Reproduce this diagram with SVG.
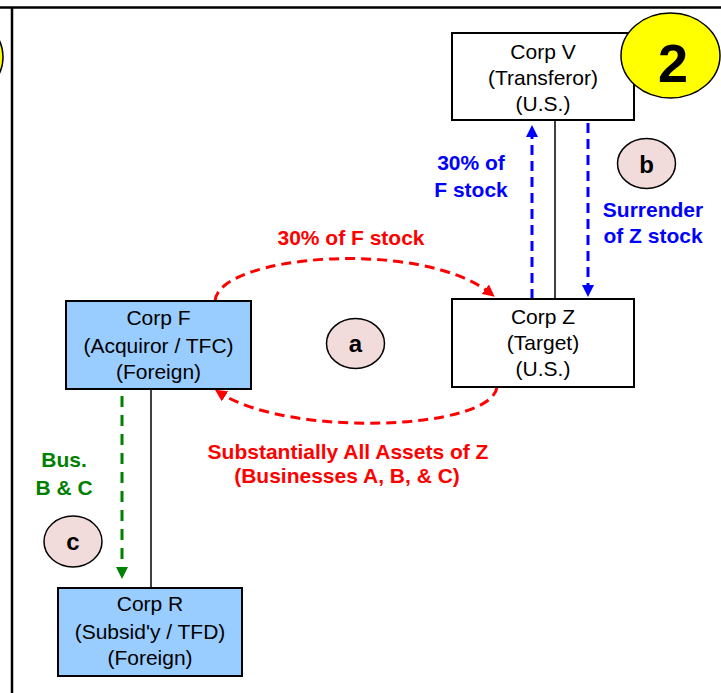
<svg xmlns="http://www.w3.org/2000/svg" width="721" height="693" viewBox="0 0 721 693">
<style>
  .box { stroke: #000; stroke-width: 2; }
  .white { fill: #fff; }
  .blue { fill: #99CCFF; }
  .nt { font-family: "Liberation Sans", Arial, sans-serif; font-size: 21px; fill: #000; text-anchor: middle; }
  .lbl { font-family: "Liberation Sans", Arial, sans-serif; font-size: 21px; font-weight: bold; text-anchor: middle; }
  .step { fill: #F2DCDB; stroke: #000; stroke-width: 1.5; }
  .stept { font-family: "Liberation Sans", Arial, sans-serif; font-size: 24px; font-weight: bold; fill: #000; text-anchor: middle; }
  .solid { stroke: #000; stroke-width: 1.5; fill: none; }
  .red { stroke: #FF0000; stroke-width: 3; fill: none; stroke-dasharray: 10 6; }
  .bl { stroke: #0000FF; stroke-width: 3; fill: none; stroke-dasharray: 10 6; }
  .gr { stroke: #008000; stroke-width: 3; fill: none; stroke-dasharray: 11 8; }
</style>
<defs>
  <marker id="ar" viewBox="0 0 12 12" refX="6" refY="6" markerWidth="12" markerHeight="12" markerUnits="userSpaceOnUse" orient="auto">
    <path d="M0,0 L12,6 L0,12 z" fill="#FF0000"/>
  </marker>
  <marker id="ab" viewBox="0 0 12 12" refX="6" refY="6" markerWidth="12" markerHeight="12" markerUnits="userSpaceOnUse" orient="auto">
    <path d="M0,0 L12,6 L0,12 z" fill="#0000FF"/>
  </marker>
  <marker id="ag" viewBox="0 0 12 12" refX="6" refY="6" markerWidth="12" markerHeight="12" markerUnits="userSpaceOnUse" orient="auto">
    <path d="M0,0 L12,6 L0,12 z" fill="#008000"/>
  </marker>
</defs>
<rect x="0" y="0" width="721" height="693" fill="#fff"/>
<g id="frame">
  <line x1="0" y1="7.5" x2="721" y2="7.5" stroke="#000" stroke-width="2.5"/>
  <line x1="12" y1="7" x2="12" y2="693" stroke="#000" stroke-width="2.5"/>
  <ellipse cx="-44" cy="57" rx="47" ry="42" fill="#FFFF00" stroke="#000" stroke-width="1.5"/>
</g>
<g id="connectors">
  <line class="solid" x1="555" y1="120" x2="555" y2="299"/>
  <line class="solid" x1="151" y1="389" x2="151" y2="588"/>
  <path class="red" d="M215,301 C218,255 420,238 490,293" marker-end="url(#ar)"/>
  <path class="red" d="M497,387 C492,430 290,438 220,393" marker-end="url(#ar)"/>
  <line class="bl" x1="532" y1="299" x2="532" y2="131" marker-end="url(#ab)"/>
  <line class="bl" x1="588" y1="123" x2="588" y2="291" marker-end="url(#ab)"/>
  <line class="gr" x1="122" y1="396" x2="122" y2="573" marker-end="url(#ag)"/>
</g>
<g id="corpV">
  <rect class="box white" x="452" y="33" width="182" height="87"/>
  <text class="nt" x="543" y="58.5">Corp V</text>
  <text class="nt" x="543" y="85">(Transferor)</text>
  <text class="nt" x="543" y="111">(U.S.)</text>
</g>
<g id="badge2">
  <ellipse cx="670.5" cy="55.5" rx="49.5" ry="42.5" fill="#FFFF00" stroke="#000" stroke-width="1.5"/>
  <text x="673" y="82" font-family="Liberation Sans, Arial, sans-serif" font-size="54" font-weight="bold" text-anchor="middle" fill="#000">2</text>
</g>
<g id="corpZ">
  <rect class="box white" x="452" y="299" width="182" height="88"/>
  <text class="nt" x="543" y="323.5">Corp Z</text>
  <text class="nt" x="543" y="349.5">(Target)</text>
  <text class="nt" x="543" y="376">(U.S.)</text>
</g>
<g id="corpF">
  <rect class="box blue" x="66" y="301" width="185" height="88"/>
  <text class="nt" x="158.5" y="325">Corp F</text>
  <text class="nt" x="158.5" y="352.5">(Acquiror / TFC)</text>
  <text class="nt" x="158.5" y="378.5">(Foreign)</text>
</g>
<g id="corpR">
  <rect class="box blue" x="58" y="588" width="184" height="88"/>
  <text class="nt" x="150" y="611">Corp R</text>
  <text class="nt" x="150" y="638.5">(Subsid'y / TFD)</text>
  <text class="nt" x="150" y="664.5">(Foreign)</text>
</g>
<g id="stepA">
  <ellipse class="step" cx="355.5" cy="343.5" rx="29" ry="25"/>
  <text class="stept" x="355.5" y="352">a</text>
</g>
<g id="stepB">
  <ellipse class="step" cx="646.5" cy="163.5" rx="29" ry="25"/>
  <text class="stept" x="646.5" y="172.5">b</text>
</g>
<g id="stepC">
  <ellipse class="step" cx="73" cy="541.5" rx="29" ry="25.5"/>
  <text class="stept" x="73" y="550">c</text>
</g>
<g id="labels">
  <text class="lbl" x="351" y="245" fill="#FF0000">30% of F stock</text>
  <text class="lbl" x="348" y="458.5" fill="#FF0000">Substantially All Assets of Z</text>
  <text class="lbl" x="347" y="483" fill="#FF0000">(Businesses A, B, &amp; C)</text>
  <text class="lbl" x="471" y="170" fill="#0000FF">30% of</text>
  <text class="lbl" x="471" y="197" fill="#0000FF">F stock</text>
  <text class="lbl" x="653" y="217" fill="#0000FF">Surrender</text>
  <text class="lbl" x="653" y="243" fill="#0000FF">of Z stock</text>
  <text class="lbl" x="64" y="467" fill="#008000">Bus.</text>
  <text class="lbl" x="64" y="495" fill="#008000">B &amp; C</text>
</g>
</svg>
